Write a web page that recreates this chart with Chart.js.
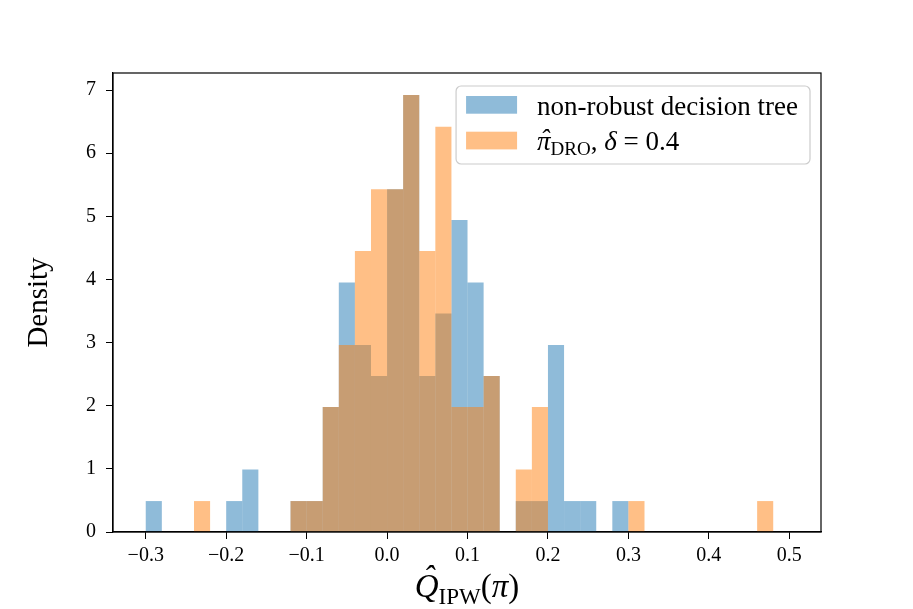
<!DOCTYPE html>
<html>
<head>
<meta charset="utf-8">
<script src="https://cdn.jsdelivr.net/npm/chart.js@4.4.1/dist/chart.umd.min.js"></script>
<style>
  body { margin: 0; background: #fff; }
  #wrap { width: 913px; height: 609px; }
</style>
</head>
<body>
<div id="wrap"><canvas id="myChart"></canvas></div>
<script>
// histogram bins (left edges), width 0.02
const binWidth = 0.02
const binStart = [
  -0.30, -0.28, -0.26, -0.24, -0.22, -0.20, -0.18, -0.16, -0.14, -0.12,
  -0.10, -0.08, -0.06, -0.04, -0.02, 0.00, 0.02, 0.04, 0.06, 0.08,
  0.10, 0.12, 0.14, 0.16, 0.18, 0.20, 0.22, 0.24, 0.26, 0.28,
  0.30, 0.32, 0.34, 0.36, 0.38, 0.40, 0.42, 0.44, 0.46
]
// density
const treeDensity = [
  0.49, 0, 0, 0, 0, 0.49, 0.99, 0, 0, 0.49,
  0.49, 1.98, 3.95, 2.96, 2.47, 5.43, 6.92, 2.47, 3.46, 4.94,
  3.95, 2.47, 0, 0.49, 0.49, 2.96, 0.49, 0.49, 0, 0.49,
  0, 0, 0, 0, 0, 0, 0, 0, 0
]
const droDensity = [
  0, 0, 0, 0.49, 0, 0, 0, 0, 0, 0.49,
  0.49, 1.98, 2.96, 4.45, 5.43, 5.43, 6.92, 4.45, 6.42, 1.98,
  1.98, 2.47, 0, 0.99, 1.98, 0, 0, 0, 0, 0,
  0.49, 0, 0, 0, 0, 0, 0, 0, 0.49
]
const xTicks = [-0.3, -0.2, -0.1, 0.0, 0.1, 0.2, 0.3, 0.4, 0.5]
const yTicks = [0, 1, 2, 3, 4, 5, 6, 7]
const xRange = [-0.3407, 0.5394]
const yRange = [0, 7.27]

const serif = "'Liberation Serif', 'DejaVu Serif', serif"
const blue = 'rgba(31, 119, 180, 0.5)'
const orange = 'rgba(255, 127, 14, 0.5)'

function toPoints(values){
  return binStart.map((b, i) => ({ x: b + binWidth / 2, y: values[i] }))
}

function fmtTick(v){
  let s = Math.abs(v).toFixed(1)
  return (v < -1e-9 ? '\u2212' : '') + s
}

// draw a row of text pieces (for sub/superscripts and hats)
function drawPieces(ctx, pieces, x, y, align){
  let total = 0
  pieces.forEach(p => { ctx.font = p.font; p.w = ctx.measureText(p.t).width; total += p.w })
  let cx = align === 'center' ? x - total / 2 : x
  ctx.textAlign = 'left'
  ctx.textBaseline = 'alphabetic'
  pieces.forEach(p => {
    ctx.font = p.font
    ctx.fillText(p.t, cx, y + (p.dy || 0))
    if (p.hat) {
      // hat accent centred over the glyph
      ctx.textAlign = 'center'
      ctx.fillText('\u02c6', cx + p.w / 2 + (p.hatDx || 0), y + p.hat)
      ctx.textAlign = 'left'
    }
    cx += p.w
  })
  return total
}

// frame around the axes (matplotlib spines)
const framePlugin = {
  id: 'frame',
  afterDraw(chart){
    const ctx = chart.ctx
    const a = chart.chartArea
    ctx.save()
    ctx.strokeStyle = '#000'
    ctx.lineWidth = 1.2
    ctx.strokeRect(a.left, a.top, a.right - a.left, a.bottom - a.top)
    ctx.restore()
  }
}

// x axis label with subscript
const xLabelPlugin = {
  id: 'xLabel',
  afterDraw(chart){
    const ctx = chart.ctx
    const a = chart.chartArea
    ctx.save()
    ctx.fillStyle = '#000'
    drawPieces(ctx, [
      { t: 'Q', font: 'italic 33px ' + serif, hat: -8, hatDx: 2 },
      { t: 'IPW', font: '23px ' + serif, dy: 7 },
      { t: '(', font: '33px ' + serif },
      { t: '\u03c0', font: 'italic 33px ' + serif },
      { t: ')', font: '33px ' + serif }
    ], (a.left + a.right) / 2, 597, 'center')
    ctx.restore()
  }
}

// legend drawn by hand so the second entry can have a subscript
const legendPlugin = {
  id: 'texLegend',
  afterDraw(chart){
    const ctx = chart.ctx
    const a = chart.chartArea
    const ds = chart.data.datasets
    const rows = [
      [{ t: 'non-robust decision tree', font: '27px ' + serif }],
      [
        { t: '\u03c0', font: 'italic 27px ' + serif, hat: -2, hatDx: 1 },
        { t: 'DRO', font: '19px ' + serif, dy: 5 },
        { t: ', ', font: '27px ' + serif },
        { t: '\u03b4', font: 'italic 27px ' + serif },
        { t: ' = 0.4', font: '27px ' + serif }
      ]
    ]
    let maxW = 0
    rows.forEach(r => {
      let w = 0
      r.forEach(p => { ctx.font = p.font; w += ctx.measureText(p.t).width })
      maxW = Math.max(maxW, w)
    })
    const boxW = 10 + 51 + 20 + maxW + 12
    const boxH = 78
    const left = a.right - 11 - boxW
    const top = a.top + 13
    ctx.save()
    ctx.beginPath()
    ctx.roundRect(left, top, boxW, boxH, 5)
    ctx.fillStyle = 'rgba(255,255,255,0.8)'
    ctx.fill()
    ctx.strokeStyle = '#cccccc'
    ctx.lineWidth = 1.2
    ctx.stroke()
    const order = [1, 0] // tree first, DRO second
    order.forEach((di, r) => {
      const py = top + 10 + r * 35.7
      ctx.fillStyle = ds[di].backgroundColor
      ctx.fillRect(left + 10, py, 51, 17.7)
      ctx.fillStyle = '#000'
      drawPieces(ctx, rows[r], left + 81, py + 18.5, 'left')
    })
    ctx.restore()
  }
}

let ctx = document.getElementById('myChart').getContext('2d')
let myChart = new Chart(ctx, {
  type: 'bar',
  data: {
    datasets: [
      {
        label: '\u03c0\u0302 DRO, \u03b4 = 0.4',
        data: toPoints(droDensity),
        backgroundColor: orange,
        order: 1
      },
      {
        label: 'non-robust decision tree',
        data: toPoints(treeDensity),
        backgroundColor: blue,
        order: 2
      }
    ]
  },
  options: {
    responsive: true,
    maintainAspectRatio: false,
    animation: false,
    layout: { padding: { left: 0, right: 92, top: 73, bottom: 0 } },
    datasets: {
      bar: {
        grouped: false,
        barPercentage: 1,
        categoryPercentage: 1,
        borderWidth: 0,
        inflateAmount: 0
      }
    },
    plugins: {
      legend: { display: false },
      tooltip: { enabled: false }
    },
    scales: {
      x: {
        type: 'linear',
        min: xRange[0],
        max: xRange[1],
        offset: false,
        afterBuildTicks: axis => { axis.ticks = xTicks.map(v => ({ value: v })) },
        afterFit: axis => { axis.height = 77 },
        grid: {
          display: true,
          offset: false,
          drawOnChartArea: false,
          drawTicks: true,
          tickLength: 7,
          color: '#000',
          lineWidth: 1
        },
        border: { display: true, color: '#000', width: 1.2 },
        ticks: {
          color: '#000',
          padding: 5,
          maxRotation: 0,
          font: { family: serif, size: 20 },
          callback: v => fmtTick(v)
        }
      },
      y: {
        min: yRange[0],
        max: yRange[1],
        afterBuildTicks: axis => { axis.ticks = yTicks.map(v => ({ value: v })) },
        afterFit: axis => { axis.width = 113 },
        grid: {
          display: true,
          drawOnChartArea: false,
          drawTicks: true,
          tickLength: 7,
          color: '#000',
          lineWidth: 1
        },
        border: { display: true, color: '#000', width: 1.2 },
        ticks: {
          color: '#000',
          padding: 10,
          font: { family: serif, size: 20 },
          callback: v => String(v)
        },
        title: {
          display: true,
          text: 'Density',
          color: '#000',
          font: { family: serif, size: 29 },
          padding: { top: 22, bottom: 0 }
        }
      }
    }
  },
  plugins: [framePlugin, xLabelPlugin, legendPlugin]
})
</script>
</body>
</html>
